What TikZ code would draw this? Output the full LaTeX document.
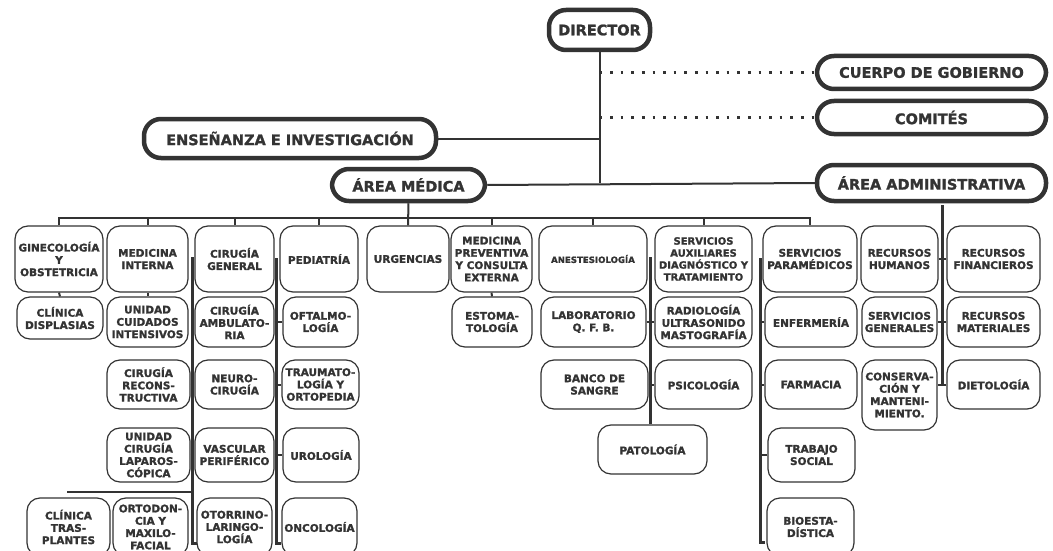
\documentclass[tikz,border=0pt]{standalone}
\usepackage{fontspec}
\setmainfont{DejaVu Sans}[BoldFeatures={FakeBold=1.5}]
\usepackage{tikz}
\definecolor{ink}{HTML}{333333}
\newcommand\bigfont{\fontsize{14.5}{16}\selectfont\bfseries}
\newcommand\boxfont{\fontsize{10.5}{12.3}\selectfont\bfseries}

\begin{document}
\begin{tikzpicture}[x=1pt,y=-1pt,
	head/.style={draw=ink,text=ink,line width=4.5pt,rounded corners=17pt,font=\bigfont,inner sep=0pt},
	box/.style={draw=ink,text=ink,line width=1.2pt,rounded corners=13pt,font=\boxfont,align=center,inner sep=1pt},
	link/.style={draw=ink,line width=2pt},
	rail/.style={draw=ink,line width=3pt},
	dots/.style={draw=ink,line width=2.6pt,dash pattern=on 2.6pt off 8pt}]
	\path[use as bounding box] (0,0) rectangle (1053,551);
	\clip (0,0) rectangle (1053,551);

	\node[head, minimum width=101, minimum height=40] (director) at (599.5,30) {DIRECTOR};
	\node[head, minimum width=229, minimum height=33] (cuerpo) at (931.5,72.5) {CUERPO DE GOBIERNO};
	\node[head, minimum width=229, minimum height=33] (comites) at (931.5,117.5) {COMITÉS};
	\node[head, minimum width=292, minimum height=39] (ensen) at (290,138.5) {ENSEÑANZA E INVESTIGACIÓN};
	\node[head, minimum width=153, minimum height=32] (medica) at (408.5,185) {ÁREA MÉDICA};
	\node[head, minimum width=229, minimum height=36] (admin) at (931.5,183) {ÁREA ADMINISTRATIVA};

	\foreach \n/\x/\w/\txt in {gine/59/88/{GINECOLOGÍA\\Y\\OBSTETRICIA}, medint/147.5/81/{MEDICINA\\INTERNA},
			cirgen/234.5/79/{CIRUGÍA\\GENERAL}, pedia/319/78/{PEDIATRÍA}, urg/408/82/{URGENCIAS},
			medprev/491.5/81/{MEDICINA\\PREVENTIVA\\Y CONSULTA\\EXTERNA}, servpara/810/94/{SERVICIOS\\PARAMÉDICOS},
			rrhh/899.5/77/{RECURSOS\\HUMANOS}, rrfin/993.5/93/{RECURSOS\\FINANCIEROS}}
		\node[box, minimum width=\w, minimum height=66] (\n) at (\x,259) {\txt};
	\node[box, minimum width=108, minimum height=66, font=\fontsize{8.6}{10}\selectfont\bfseries] (anest) at (593,259) {ANESTESIOLOGÍA};
	\node[box, minimum width=97, minimum height=66, font=\fontsize{10}{12}\selectfont\bfseries] (servaux) at (703.5,259) {SERVICIOS\\AUXILIARES\\DIAGNÓSTICO Y\\TRATAMIENTO};

	\foreach \n/\x/\w/\txt in {uci/147.5/81/{UNIDAD\\CUIDADOS\\INTENSIVOS}, ciramb/234.5/79/{CIRUGÍA\\AMBULATO-\\RIA},
			oftal/320.5/75/{OFTALMO-\\LOGÍA}, estoma/492/80/{ESTOMA-\\TOLOGÍA}, labo/593.5/105/{LABORATORIO\\Q. F. B.},
			radio/703.5/97/{RADIOLOGÍA\\ULTRASONIDO\\MASTOGRAFÍA}, enfer/811/92/{ENFERMERÍA},
			servgen/899.5/75/{SERVICIOS\\GENERALES}, rrmat/993.5/93/{RECURSOS\\MATERIALES}}
		\node[box, minimum width=\w, minimum height=50] (\n) at (\x,322) {\txt};
	\node[box, minimum width=86, minimum height=42] (displ) at (60,318) {CLÍNICA\\DISPLASIAS};

	\foreach \n/\x/\w/\txt in {cirrec/148.5/83/{CIRUGÍA\\RECONS-\\TRUCTIVA}, neuro/234.5/79/{NEURO-\\CIRUGÍA},
			trauma/320.5/77/{TRAUMATO-\\LOGÍA Y\\ORTOPEDIA}, banco/594.5/107/{BANCO DE\\SANGRE},
			psico/703.5/97/{PSICOLOGÍA}, farma/811/92/{FARMACIA}, dieto/993.5/93/{DIETOLOGÍA}}
		\node[box, minimum width=\w, minimum height=49] (\n) at (\x,384.5) {\txt};
	\node[box, minimum width=75, minimum height=70] (conserv) at (899.5,395) {CONSERVA-\\CIÓN Y\\MANTENI-\\MIENTO.};

	\foreach \n/\x/\w/\txt in {lapa/148.5/83/{UNIDAD\\CIRUGÍA\\LAPAROS-\\CÓPICA}, vasc/234.5/79/{VASCULAR\\PERIFÉRICO},
			uro/321/76/{UROLOGÍA}, trab/811.5/87/{TRABAJO\\SOCIAL}}
		\node[box, minimum width=\w, minimum height=54] (\n) at (\x,455) {\txt};
	\node[box, minimum width=109, minimum height=49] (pato) at (652.5,449.5) {PATOLOGÍA};

	\foreach \n/\x/\w/\txt in {trasp/68.5/83/{CLÍNICA\\TRAS-\\PLANTES}, orto/150.5/75/{ORTODON-\\CIA Y\\MAXILO-\\FACIAL},
			otorr/234.5/75/{OTORRINO-\\LARINGO-\\LOGÍA}, onco/319.5/75/{ONCOLOGÍA}, bioes/810.5/87/{BIOESTA-\\DÍSTICA}}
		\node[box, minimum width=\w, minimum height=58] (\n) at (\x,527) {\txt};

	\draw[link] (director.south) -- (director.south |- admin.west);
	\draw[dots] (director.south |- cuerpo.west) -- (cuerpo.west);
	\draw[dots] (director.south |- comites.west) -- (comites.west);
	\draw[link] (ensen.east) -- (ensen.east -| director.south);
	\draw[link] (medica.east) -- (admin.west);
	\draw[link] (medica.south) -- (urg.north);
	\draw[link] (gine.north) -- ++(0,-7) -| (servpara.north);
	\foreach \n in {medint,cirgen,pedia,medprev,anest,servaux}
		\draw[link] (\n.north) -- ++(0,-7);
	\foreach \a/\b in {gine/displ,medint/uci,medprev/estoma}
		\draw[link] (\a.south) -- (\b.north);

	\coordinate (cirrail) at (192.5,257);
	\coordinate (pedrail) at (276.7,258);
	\coordinate (auxrail) at (650,257);
	\coordinate (pararail) at (760,258);
	\coordinate (admrail) at (942,205);
	\coordinate (tail) at (67,492);
	\draw[rail] (cirrail) -- (cirrail |- 0,543) -- ++(4,0);
	\draw[rail] (pedrail) -- (pedrail |- 0,543) -- ++(4,0);
	\draw[rail] (auxrail) -- (auxrail |- pato.north);
	\draw[rail] (pararail) -- (pararail |- 0,542) -- ++(5,0);
	\draw[rail] (admrail) -- (admrail |- dieto.west);
	\draw[link] (tail) -- (tail -| cirrail);
	\foreach \a/\b in {cirrec/neuro,lapa/vasc,ciramb/oftal,neuro/trauma,vasc/uro,labo/radio,banco/psico,rrhh/rrfin,servgen/rrmat}
		\draw[link] (\a.east) -- (\b.west);
	\foreach \n in {enfer,farma,trab}
		\draw[link] (\n.west) -- (\n.west -| pararail);
	\draw[link] (dieto.west) -- (dieto.west -| conserv.east);
\end{tikzpicture}
\end{document}
